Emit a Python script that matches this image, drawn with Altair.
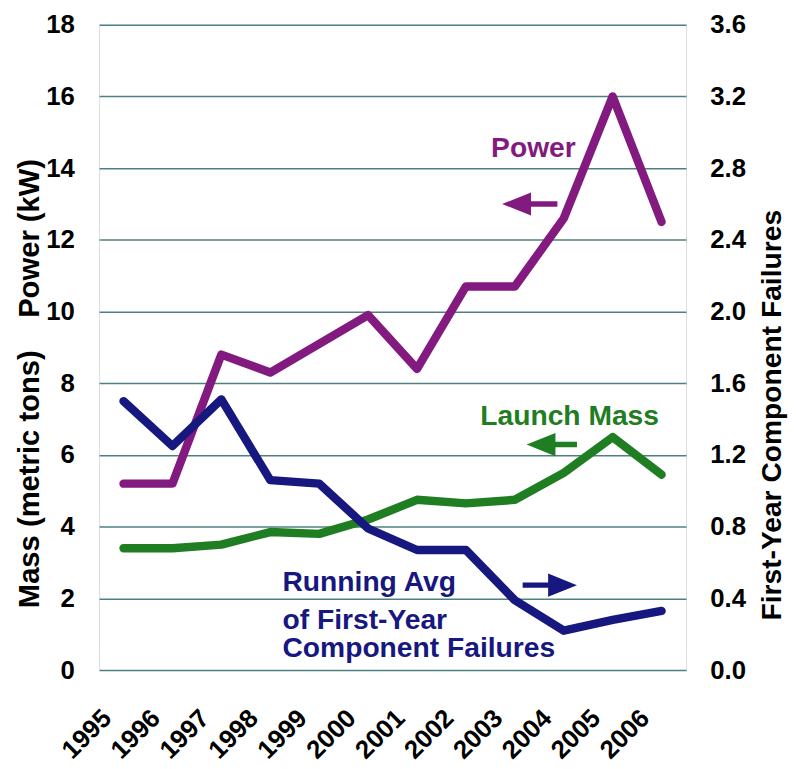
import altair as alt
import pandas as pd

years = list(range(1995, 2007))
power_kw = [5.2, 5.2, 8.8, 8.3, 9.1, 9.9, 8.4, 10.7, 10.7, 12.6, 16.0, 12.5]
launch_mass_t = [3.4, 3.4, 3.5, 3.85, 3.8, 4.2, 4.75, 4.65, 4.75, 5.5, 6.5, 5.45]
first_year_failures = [1.5, 1.25, 1.51, 1.06, 1.04, 0.79, 0.67, 0.67, 0.39, 0.22, 0.28, 0.33]
left_ticks = [0, 2, 4, 6, 8, 10, 12, 14, 16, 18]
right_ticks = [0.0, 0.4, 0.8, 1.2, 1.6, 2.0, 2.4, 2.8, 3.2, 3.6]

PURPLE = "#821a80"
GREEN = "#1f7d22"
NAVY = "#16177f"
FONT = "Liberation Sans"
NB = "\u00a0"

df_left = pd.DataFrame({
    "year": years * 2,
    "series": ["Power"] * len(years) + ["Launch Mass"] * len(years),
    "value": power_kw + launch_mass_t,
})
df_fail = pd.DataFrame({"year": years, "value": first_year_failures})

x_scale = alt.Scale(domain=[1994.5, 2006.5], nice=False, zero=False)
x_axis = alt.Axis(values=years, format="d", title=None, grid=False, ticks=False, domain=False,
                  labelAngle=-45, labelAlign="right", labelBaseline="middle", labelOverlap=False,
                  labelFont=FONT, labelFontWeight="bold", labelFontSize=26, labelColor="#000",
                  labelPadding=44, labelOffset=-17)
y_left_scale = alt.Scale(domain=[0, 18], nice=False, zero=True)
y_left_axis = alt.Axis(values=left_ticks, format="d",
                       title="Mass (metric tons)" + NB * 4 + "Power (kW)",
                       ticks=False, domain=False, grid=True, gridColor="#4f8080", gridWidth=1.5,
                       labelFont=FONT, labelFontWeight="bold", labelFontSize=26, labelColor="#000",
                       labelPadding=25,
                       titleFont=FONT, titleFontWeight="bold", titleFontSize=29.5, titleColor="#000",
                       titleAngle=270, titleAlign="center", titleBaseline="middle",
                       titleX=-70, titleY=362)


def X(field=None, datum=None):
    if datum is not None:
        return alt.XDatum(datum, type="quantitative", scale=x_scale, axis=x_axis)
    return alt.X(field, type="quantitative", scale=x_scale, axis=x_axis)


def YL(datum):
    return alt.YDatum(datum, type="quantitative", scale=y_left_scale, axis=y_left_axis)


lines_left = alt.Chart(df_left).mark_line(strokeWidth=8.5, strokeJoin="round", strokeCap="round").encode(
    x=X("year"),
    y=alt.Y("value:Q", scale=y_left_scale, axis=y_left_axis),
    color=alt.Color("series:N", scale=alt.Scale(domain=["Power", "Launch Mass"], range=[PURPLE, GREEN]),
                    legend=None),
    detail="series:N",
)


def label(text, xv, yv, color, align="center"):
    return alt.Chart().mark_text(text=text, font=FONT, fontWeight="bold", fontSize=28.5, color=color,
                                 align=align, baseline="alphabetic").encode(x=X(datum=xv), y=YL(yv))


def arrow(tail, tip, yv, color):
    shaft = alt.Chart().mark_rule(strokeWidth=5.5, color=color).encode(
        x=X(datum=tail), x2=alt.X2Datum(tip + (0.2 if tip < tail else -0.2)), y=YL(yv))
    if tip < tail:
        path = "M0,0L2,-0.8L2,0.8Z"
    else:
        path = "M0,0L-2,-0.8L-2,0.8Z"
    head = alt.Chart().mark_point(shape=path, size=850, filled=True, opacity=1, color=color,
                                  strokeWidth=0).encode(x=X(datum=tip), y=YL(yv))
    return [shaft, head]


annos = [
    label("Power", 2003.38, 14.3, PURPLE),
    *arrow(2003.87, 2002.74, 13.0, PURPLE),
    label("Launch Mass", 2004.12, 6.85, GREEN),
    *arrow(2004.27, 2003.24, 6.29, GREEN),
    label("Running Avg", 1998.25, 2.21, NAVY, "left"),
    label("of First-Year", 1998.25, 1.16, NAVY, "left"),
    label("Component Failures", 1998.25, 0.36, NAVY, "left"),
    *arrow(2003.16, 2004.27, 2.37, NAVY),
]

left = alt.layer(lines_left, *annos)

fail_line = alt.Chart(df_fail).mark_line(strokeWidth=8.5, strokeJoin="round", strokeCap="round",
                                         color=NAVY).encode(
    x=X("year"),
    y=alt.Y("value:Q", scale=alt.Scale(domain=[0, 3.6], nice=False, zero=True),
            axis=alt.Axis(values=right_ticks, format=".1f", orient="right",
                          title="First-Year Component Failures",
                          ticks=False, domain=False, grid=False,
                          labelFont=FONT, labelFontWeight="bold", labelFontSize=26, labelColor="#000",
                          labelPadding=24,
                          titleFont=FONT, titleFontWeight="bold", titleFontSize=28.5, titleColor="#000",
                          titleAngle=270, titleAlign="center", titleBaseline="middle",
                          titleX=86, titleY=394)),
)

chart = alt.layer(left, fail_line).resolve_scale(y="independent").properties(
    width=593, height=652,
    autosize=alt.AutoSizeParams(type="none"),
    padding={"left": 92, "top": 13, "right": 103, "bottom": 96},
).configure_view(fill="#ccffff", stroke="#1b2a22", strokeWidth=2.5).configure(background="white")

chart.save("out.html", embed_options={"renderer": "svg", "actions": False})
